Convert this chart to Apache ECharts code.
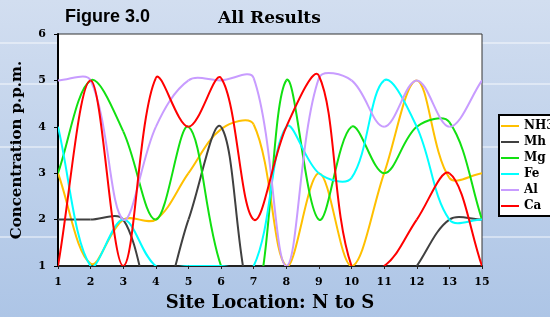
<!DOCTYPE html>
<html>
<head>
<meta charset="utf-8">
<script src="https://cdn.jsdelivr.net/npm/echarts@6/dist/echarts.min.js"></script>
<style>
  html, body { margin: 0; padding: 0; }
  #chart { width: 550px; height: 317px; }
</style>
</head>
<body>
<div id="chart"></div>
<script>
// site numbers along the x axis (14 is not in the survey)
const sites = ['1', '2', '3', '4', '5', '6', '7', '8', '9', '10', '11', '12', '13', '15']

// concentrations in p.p.m. (values under 1 fall below the axis)
const nh3 = [3, 1.05, 2, 2, 3, 3.95, 4.05, 1, 3, 1, 3, 5, 2.9, 3]
const mh = [2, 2, 2, 0, 2, 4, 0, 0, 0, 0, 0, 1, 2, 2]
const mg = [3, 5, 3.9, 2, 4, 1, 0, 5, 2, 4, 3, 4, 4.1, 2]
const fe = [4, 1, 2, 1, 1, 1, 1, 4, 3, 2.9, 5, 4, 2, 2]
const al = [5, 5, 2, 4, 5, 5, 5.05, 1, 5.05, 5, 4, 5, 4, 5]
const ca = [1, 5, 1, 5.05, 4, 5.05, 2, 4, 5.1, 1, 1, 2, 3, 1]

const serif = 'DejaVu Serif'
// spline smoothness, close to the spreadsheet's smoothed lines
const smooth = 0.35

/* each item draws the curve piece from its point to the next one,
 * control points from the neighbours, weighted by segment length
 */
function makeSeries(name, data, color) {
    const last = data.length - 1
    return {
        name: name,
        type: 'custom',
        coordinateSystem: 'cartesian2d',
        data: data.map(function (v, i) { return [i, v] }),
        encode: { x: 0, y: 1 },
        itemStyle: { color: color },
        renderItem: function (params, api) {
            const i = params.dataIndex
            if (i >= last) return null
            const pt = function (k) {
                k = Math.max(0, Math.min(last, k))
                return api.coord([k, data[k]])
            }
            const dist = function (a, b) {
                return Math.sqrt((a[0] - b[0]) * (a[0] - b[0]) + (a[1] - b[1]) * (a[1] - b[1]))
            }
            // control point leaving p (dir 1) or arriving at p (dir -1)
            const ctrl = function (prev, p, next, dir) {
                const d1 = dist(prev, p), d2 = dist(p, next)
                const sum = d1 + d2 || 1
                const r = dir > 0 ? d2 / sum : d1 / sum
                return [p[0] + dir * (next[0] - prev[0]) * smooth * r,
                        p[1] + dir * (next[1] - prev[1]) * smooth * r]
            }
            const p0 = pt(i - 1), p1 = pt(i), p2 = pt(i + 1), p3 = pt(i + 2)
            const c1 = ctrl(p0, p1, p2, 1)
            const c2 = ctrl(p1, p2, p3, -1)
            const cs = params.coordSys
            return {
                type: 'bezierCurve',
                shape: {
                    x1: p1[0], y1: p1[1],
                    x2: p2[0], y2: p2[1],
                    cpx1: c1[0], cpy1: c1[1],
                    cpx2: c2[0], cpy2: c2[1]
                },
                style: { stroke: color, lineWidth: 2, fill: 'none' },
                clipPath: {
                    type: 'rect',
                    shape: { x: cs.x, y: cs.y - 1, width: cs.width, height: cs.height + 1 }
                }
            }
        }
    }
}

// faint white stripes on the backdrop
const stripes = [43, 84, 147, 237].map(function (y) {
    return {
        type: 'line',
        z: -5,
        silent: true,
        shape: { x1: 0, y1: y, x2: 550, y2: y },
        style: { stroke: 'rgba(255,255,255,0.85)', lineWidth: 1 }
    }
})

const chart = echarts.init(document.getElementById('chart'))
chart.setOption({
    animation: false,
    backgroundColor: {
        type: 'linear', x: 0, y: 0, x2: 0, y2: 1,
        colorStops: [
            { offset: 0, color: '#d2def0' },
            { offset: 1, color: '#adc5e6' }
        ]
    },
    graphic: stripes,
    title: [
        {
            text: 'Figure 3.0',
            left: 60, top: 3,
            textStyle: { fontFamily: 'Liberation Sans', fontWeight: 'bold', fontSize: 18, color: '#000' }
        },
        {
            text: 'All Results',
            left: 213, top: 5,
            textStyle: { fontFamily: serif, fontWeight: 'bold', fontSize: 17, color: '#000' }
        }
    ],
    legend: {
        orient: 'vertical',
        left: 499,
        top: 115,
        backgroundColor: '#fff',
        borderColor: '#000',
        borderWidth: 2,
        borderRadius: 0,
        padding: [5, 40, 4, 2],
        icon: 'rect',
        itemWidth: 18,
        itemHeight: 2,
        itemGap: 4,
        textStyle: { fontFamily: serif, fontWeight: 'bold', fontSize: 12, color: '#000' },
        data: ['NH3', 'Mh', 'Mg', 'Fe', 'Al', 'Ca']
    },
    grid: {
        left: 58, top: 34, right: 68, bottom: 44,
        show: true,
        backgroundColor: '#fff',
        borderColor: '#333',
        borderWidth: 1
    },
    xAxis: {
        type: 'category',
        data: sites,
        boundaryGap: false,
        name: 'Site Location: N to S',
        nameLocation: 'middle',
        nameGap: 28,
        nameTextStyle: { fontFamily: serif, fontWeight: 'bold', fontSize: 18, color: '#000' },
        axisLine: { lineStyle: { color: '#222', width: 2 } },
        axisTick: { alignWithLabel: true, length: 3, lineStyle: { color: '#222' } },
        axisLabel: { fontFamily: serif, fontWeight: 'bold', fontSize: 11, color: '#000', margin: 11, interval: 0 },
        splitLine: { show: false }
    },
    yAxis: {
        type: 'value',
        min: 1,
        max: 6,
        interval: 1,
        name: 'Concentration p.p.m.',
        nameLocation: 'middle',
        nameGap: 33,
        nameTextStyle: { fontFamily: serif, fontWeight: 'bold', fontSize: 15, color: '#000' },
        axisLine: { show: true, lineStyle: { color: '#000', width: 2 } },
        axisTick: { show: true, length: 4, lineStyle: { color: '#000' } },
        axisLabel: { fontFamily: serif, fontWeight: 'bold', fontSize: 11, color: '#000', margin: 12 },
        splitLine: { show: false }
    },
    series: [
        makeSeries('NH3', nh3, '#ffc000'),
        makeSeries('Mh', mh, '#404040'),
        makeSeries('Mg', mg, '#11e011'),
        makeSeries('Fe', fe, '#00ffff'),
        makeSeries('Al', al, '#c89cff'),
        makeSeries('Ca', ca, '#ff0000')
    ]
})
</script>
</body>
</html>
